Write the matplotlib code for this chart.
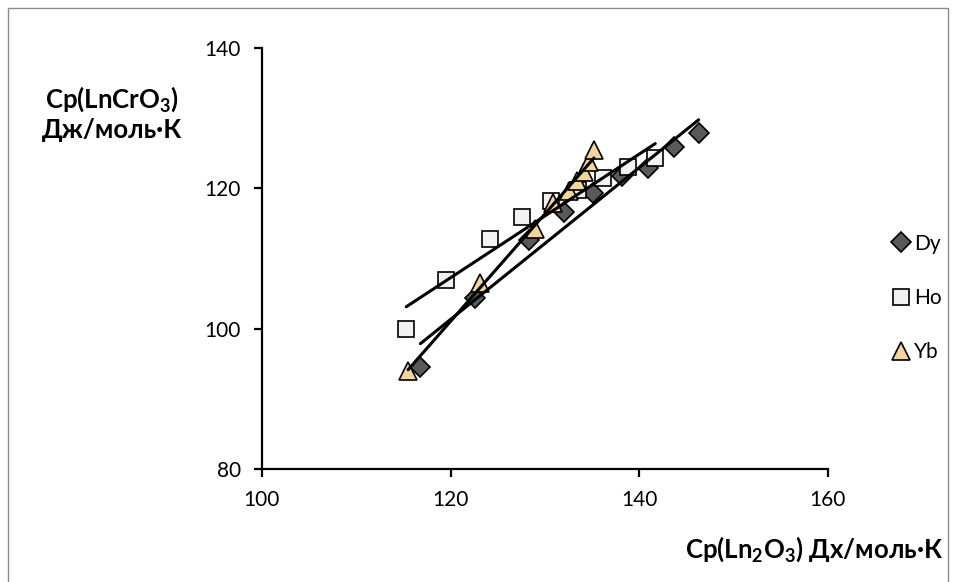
import numpy as np
import matplotlib
matplotlib.use('Agg')
import matplotlib.pyplot as plt
from matplotlib.patches import Rectangle

plt.rcParams['font.family'] = ['Lato', 'DejaVu Sans']
plt.rcParams['mathtext.fontset'] = 'custom'
plt.rcParams['mathtext.rm'] = 'Lato'
plt.rcParams['mathtext.bf'] = 'Lato:bold'

# Cp(Ln2O3) vs Cp(LnCrO3)
dy_x = [116.8, 122.6, 128.3, 132.0, 135.1, 138.2, 140.9, 143.7, 146.3]
dy_y = [94.6, 104.4, 112.6, 116.6, 119.4, 121.7, 122.9, 125.9, 127.9]

ho_x = [115.3, 119.5, 124.2, 127.6, 130.6, 133.5, 136.2, 138.8, 141.7]
ho_y = [100.0, 107.0, 112.8, 115.9, 118.2, 119.7, 121.5, 123.0, 124.3]

yb_x = [115.5, 123.1, 128.9, 130.9, 132.5, 133.4, 134.1, 134.7, 135.2]
yb_y = [94.0, 106.5, 114.2, 117.9, 119.6, 121.0, 122.4, 123.7, 125.4]

series = [
    ('Dy', dy_x, dy_y, 'D', '#595959', 10.5),
    ('Ho', ho_x, ho_y, 's', '#F2F2F2', 12),
    ('Yb', yb_x, yb_y, '^', '#F3D49B', 13),
]

fig = plt.figure(figsize=(9.56, 5.82), dpi=100)
ax = fig.add_axes([0.274, 0.194, 0.592, 0.7235])

handles = []
for name, x, y, m, c, ms in series:
    h, = ax.plot(x, y, linestyle='none', marker=m, markersize=ms,
                 markerfacecolor=c, markeredgecolor='black',
                 markeredgewidth=1.2, label=name, zorder=3)
    handles.append(h)

# linear trend lines over each data range
for name, x, y, m, c, ms in series:
    k, b = np.polyfit(x, y, 1)
    xs = np.array([min(x), max(x)])
    ax.plot(xs, k * xs + b, color='black', linewidth=2.2,
            solid_capstyle='round', zorder=4)

ax.set_xlim(100, 160)
ax.set_ylim(80, 140)
ax.set_xticks([100, 120, 140, 160])
ax.set_yticks([80, 100, 120, 140])
for s in ['top', 'right']:
    ax.spines[s].set_visible(False)
for s in ['left', 'bottom']:
    ax.spines[s].set_linewidth(1.6)
ax.tick_params(direction='out', length=6, width=1.6, labelsize=15)
ax.tick_params(axis='y', pad=9)
ax.tick_params(axis='x', pad=9)

fig.text(112 / 956, 1 - 113 / 582, r'Cp(LnCrO$_\mathbf{3}$)' + '\nДж/моль·К',
         ha='center', va='center', fontsize=18.5, fontweight='bold',
         linespacing=1.25)
fig.text(814 / 956, 1 - 549 / 582, r'Cp(Ln$_\mathbf{2}$O$_\mathbf{3}$) Дх/моль·К',
         ha='center', va='center', fontsize=18.5, fontweight='bold')

fig.legend(handles=handles, loc='center left',
           bbox_to_anchor=(882 / 956, 1 - 298 / 582),
           frameon=False, fontsize=15, handlelength=0.8,
           handletextpad=0.25, labelspacing=1.65, borderpad=0)

fig.patches.append(Rectangle((8 / 956, -0.01), 940 / 956, 1 - 8 / 582 + 0.01,
                             transform=fig.transFigure, fill=False,
                             edgecolor='#8c8c8c', linewidth=1))

plt.savefig('out.png', dpi=100)
